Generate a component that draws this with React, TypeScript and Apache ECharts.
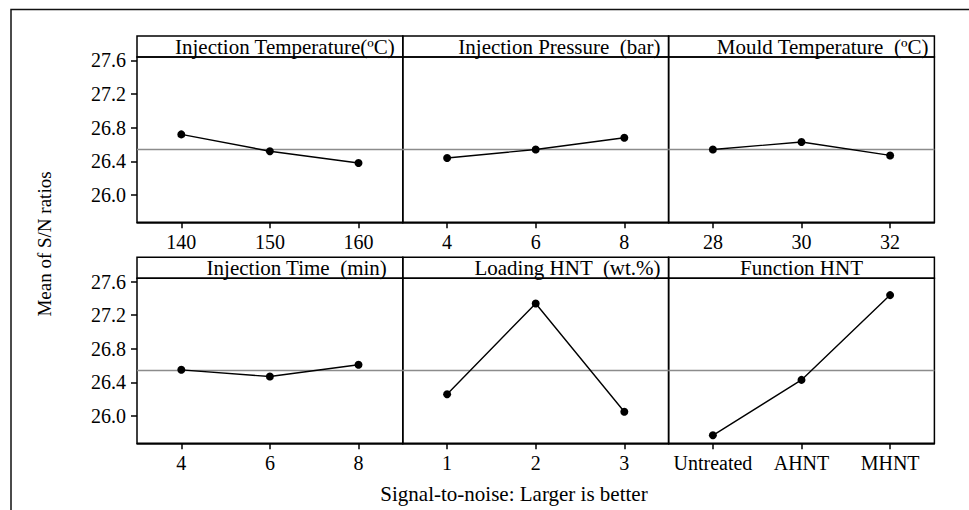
import React, { useEffect, useRef } from "react";
import * as echarts from "echarts";

// ---- data ----
const panelTitles = [
  "Injection Temperature(ºC)",
  "Injection Pressure  (bar)",
  "Mould Temperature  (ºC)",
  "Injection Time  (min)",
  "Loading HNT  (wt.%)",
  "Function HNT",
];
const injectionTemperatureLevels = ["140", "150", "160"];
const injectionPressureLevels = ["4", "6", "8"];
const mouldTemperatureLevels = ["28", "30", "32"];
const injectionTimeLevels = ["4", "6", "8"];
const loadingHntLevels = ["1", "2", "3"];
const functionHntLevels = ["Untreated", "AHNT", "MHNT"];

const injectionTemperatureSN = [26.72, 26.52, 26.38];
const injectionPressureSN = [26.44, 26.54, 26.68];
const mouldTemperatureSN = [26.54, 26.63, 26.47];
const injectionTimeSN = [26.55, 26.47, 26.61];
const loadingHntSN = [26.26, 27.34, 26.05];
const functionHntSN = [25.77, 26.43, 27.44];

const overallMeanSN = 26.54;
const yTickValues = [26.0, 26.4, 26.8, 27.2, 27.6];
const yMin = 25.675;
const yMax = 27.64;

const xTitle = "Signal-to-noise: Larger is better";
const yTitle = "Mean of S/N ratios";

const levelSets = [
  injectionTemperatureLevels,
  injectionPressureLevels,
  mouldTemperatureLevels,
  injectionTimeLevels,
  loadingHntLevels,
  functionHntLevels,
];
const valueSets = [
  injectionTemperatureSN,
  injectionPressureSN,
  mouldTemperatureSN,
  injectionTimeSN,
  loadingHntSN,
  functionHntSN,
];

// ---- layout ----
const FONT = '"Liberation Serif", "Times New Roman", serif';
const colLeft = 137;
const colW = 265.8;
const rowTops = [36, 257.3];
const stripH = 21;
const gridHs = [165.3, 165];
const titlePlace: Array<["right" | "center", number]> = [
  ["right", 8],
  ["right", 8],
  ["right", 6],
  ["right", 16],
  ["right", 8],
  ["center", 0],
];

export default function App() {
  const ref = useRef<HTMLDivElement>(null);

  useEffect(() => {
    if (!ref.current) return;
    const chart = echarts.init(ref.current, undefined, { renderer: "svg" });

    const grids: any[] = [];
    const xAxes: any[] = [];
    const yAxes: any[] = [];
    const series: any[] = [];
    const graphics: any[] = [];

    graphics.push({
      type: "polyline",
      shape: { points: [[11, 510], [11, 9.5], [969, 9.5]] },
      style: { stroke: "#111", lineWidth: 1.5, fill: "none" },
      silent: true,
    });

    for (let i = 0; i < 6; i++) {
      const r = Math.floor(i / 3);
      const c = i % 3;
      const left = colLeft + c * colW;
      const top = rowTops[r] + stripH;
      grids.push({
        left,
        top,
        width: colW,
        height: gridHs[r],
        show: true,
        borderColor: "#000",
        borderWidth: 1.5,
        backgroundColor: "transparent",
      });
      xAxes.push({
        type: "category",
        gridIndex: i,
        data: levelSets[i],
        boundaryGap: true,
        axisLine: { show: true, lineStyle: { color: "#000", width: 1.5 } },
        axisTick: {
          show: true,
          alignWithLabel: true,
          inside: false,
          length: 6,
          lineStyle: { color: "#000", width: 1.5 },
        },
        axisLabel: {
          show: true,
          margin: 10,
          color: "#000",
          fontFamily: FONT,
          fontSize: 20,
          interval: 0,
        },
        splitLine: { show: false },
      });
      const showY = c === 0;
      yAxes.push({
        type: "value",
        gridIndex: i,
        min: yMin,
        max: yMax,
        axisLine: { show: false },
        axisTick: {
          show: showY,
          length: 6,
          customValues: yTickValues,
          lineStyle: { color: "#000", width: 1.5 },
        },
        axisLabel: {
          show: showY,
          customValues: yTickValues,
          margin: 11,
          color: "#000",
          fontFamily: FONT,
          fontSize: 20,
          formatter: (v: number) => Number(v).toFixed(1),
        },
        splitLine: { show: false },
      });
      series.push({
        type: "line",
        xAxisIndex: i,
        yAxisIndex: i,
        data: valueSets[i],
        symbol: "circle",
        symbolSize: 8,
        itemStyle: { color: "#000" },
        lineStyle: { color: "#000", width: 1.4 },
        z: 3,
        markLine: {
          silent: true,
          symbol: ["none", "none"],
          label: { show: false },
          lineStyle: { color: "#8c8c8c", width: 1.4, type: "solid" },
          data: [{ yAxis: overallMeanSN }],
          z: 1,
        },
      });

      graphics.push({
        type: "rect",
        shape: { x: left, y: rowTops[r], width: colW, height: stripH },
        style: { fill: "none", stroke: "#000", lineWidth: 1.5 },
        silent: true,
      });
      const [align, off] = titlePlace[i];
      graphics.push({
        type: "text",
        x: align === "right" ? left + colW - off : left + colW / 2,
        y: rowTops[r] + stripH / 2 + 0.5,
        scaleX: 1.05,
        style: {
          text: panelTitles[i],
          fill: "#000",
          fontFamily: FONT,
          fontSize: 20,
          textAlign: align,
          textVerticalAlign: "middle",
        },
        silent: true,
      });
    }

    graphics.push({
      type: "text",
      x: 514,
      y: 494,
      style: {
        text: xTitle,
        fill: "#000",
        fontFamily: FONT,
        fontSize: 21,
        textAlign: "center",
        textVerticalAlign: "middle",
      },
      silent: true,
    });
    graphics.push({
      type: "text",
      x: 44,
      y: 244,
      rotation: Math.PI / 2,
      style: {
        text: yTitle,
        fill: "#000",
        fontFamily: FONT,
        fontSize: 19,
        textAlign: "center",
        textVerticalAlign: "middle",
      },
      silent: true,
    });

    chart.setOption({
      animation: false,
      backgroundColor: "#fff",
      grid: grids,
      xAxis: xAxes,
      yAxis: yAxes,
      series,
      graphic: graphics,
    });

    return () => chart.dispose();
  }, []);

  return (
    <div
      ref={ref}
      style={{ position: "absolute", left: 0, top: 0, width: 969, height: 510, background: "#fff" }}
    />
  );
}
